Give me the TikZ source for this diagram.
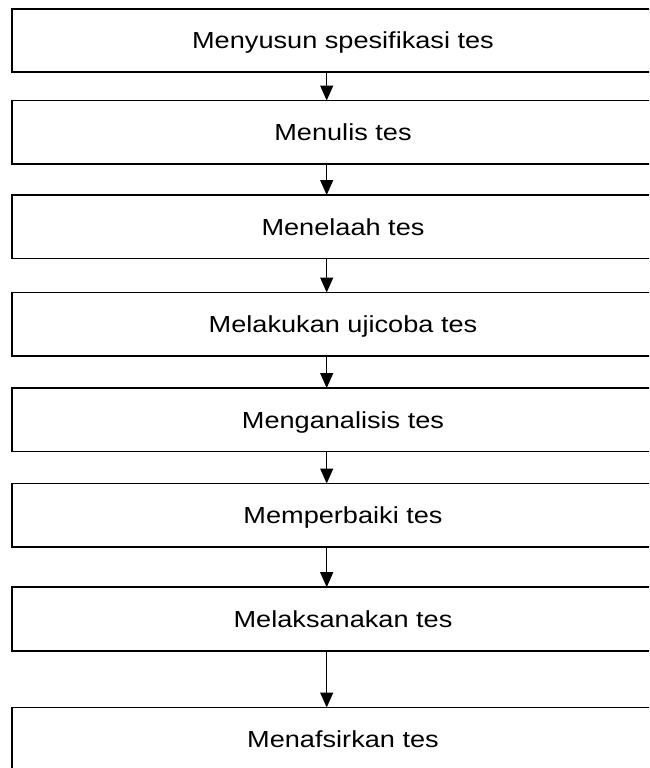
\documentclass[tikz,border=0pt]{standalone}
\usepackage{fontspec}
\setmainfont{Liberation Sans}[FakeStretch=1.17]
\usetikzlibrary{arrows.meta}
\begin{document}
\begin{tikzpicture}[x=1pt,y=-1pt,
	stepbox/.style={draw,line width=1.6pt,outer sep=0pt,inner sep=0pt,minimum width=662pt,minimum height=63.5pt,text height=16.6pt,text depth=0pt,anchor=north west,font=\fontsize{23.2}{28}\selectfont},
	flow/.style={line width=1.3pt,-{Triangle[length=15pt,width=13pt]}}]
	\useasboundingbox (0,0) rectangle (649,768);
	\clip (0,0) rectangle (649,768);
	\node[stepbox] (b1) at (12,8.8) {Menyusun spesifikasi tes};
	\node[stepbox] (b2) at (12,100.5) {Menulis tes};
	\node[stepbox] (b3) at (12,195) {Menelaah tes};
	\node[stepbox] (b4) at (12,292.5) {Melakukan ujicoba tes};
	\node[stepbox] (b5) at (12,388) {Menganalisis tes};
	\node[stepbox] (b6) at (12,483.5) {Memperbaiki tes};
	\node[stepbox] (b7) at (12,587.2) {Melaksanakan tes};
	\node[stepbox] (b8) at (12,707.5) {Menafsirkan tes};
	\coordinate (ax) at (326.7,0);
	\draw[flow] (b1.south -| ax) -- (b2.north -| ax);
	\draw[flow] (b2.south -| ax) -- (b3.north -| ax);
	\draw[flow] (b3.south -| ax) -- (b4.north -| ax);
	\draw[flow] (b4.south -| ax) -- (b5.north -| ax);
	\draw[flow] (b5.south -| ax) -- (b6.north -| ax);
	\draw[flow] (b6.south -| ax) -- (b7.north -| ax);
	\draw[flow] (b7.south -| ax) -- (b8.north -| ax);
\end{tikzpicture}
\end{document}
